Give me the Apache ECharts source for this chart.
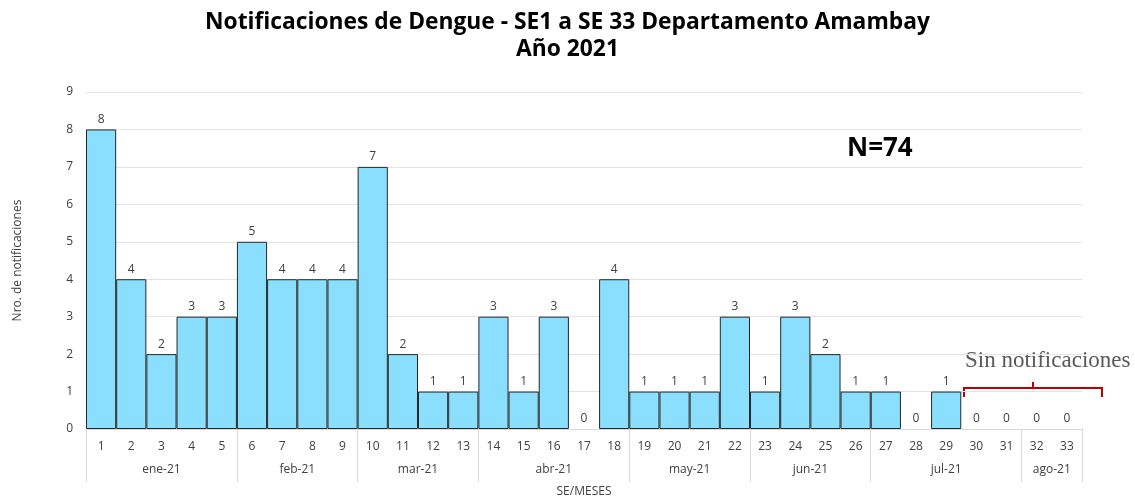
<!DOCTYPE html>
<html><head><meta charset="utf-8">
<script src="https://cdn.jsdelivr.net/npm/echarts@6/dist/echarts.min.js"></script>
<style>html,body{margin:0;padding:0;background:#fff}#c{width:1135px;height:500px}</style>
</head><body><div id="c"></div>
<script>
const weeks = ['1','2','3','4','5','6','7','8','9','10','11','12','13','14','15','16','17','18','19','20','21','22','23','24','25','26','27','28','29','30','31','32','33'];
const cases = [8,4,2,3,3,5,4,4,4,7,2,1,1,3,1,3,0,4,1,1,1,3,1,3,2,1,1,0,1,0,0,0,0];
const months = ['ene-21','feb-21','mar-21','abr-21','may-21','jun-21','jul-21','ago-21'];
const monthBounds = [0,5,9,13,18,22,26,31,33];
const yTicks = [0,1,2,3,4,5,6,7,8,9];
const monthCenters = months.map((m,i)=>(monthBounds[i]+monthBounds[i+1])/2);

const barData = cases.map(v => v === 0 ? {value:v, itemStyle:{borderWidth:0}} : v);

const chart = echarts.init(document.getElementById('c'));
chart.setOption({
  animation:false,
  title:{text:'Notificaciones de Dengue - SE1 a SE 33 Departamento Amambay\nAño 2021',left:'center',top:4,
    textStyle:{fontFamily:'Open Sans',fontWeight:'bold',fontSize:22.8,color:'#000',lineHeight:27}},
  grid:{left:86,right:53,top:92,bottom:71,outerBoundsMode:'none',containLabel:false},
  xAxis:[{
    type:'category',data:weeks,
    axisLine:{lineStyle:{color:'#d9d9d9'}},
    axisTick:{show:false},
    axisLabel:{color:'#404040',fontSize:12,margin:12,fontFamily:'Open Sans'},
    name:'SE/MESES',nameLocation:'middle',nameGap:57,
    nameTextStyle:{color:'#404040',fontSize:12,fontFamily:'Open Sans'}
  },{
    type:'value',min:0,max:33,position:'bottom',
    axisLine:{show:false},
    splitLine:{show:false},
    axisTick:{show:true,customValues:monthBounds,length:53,lineStyle:{color:'#d9d9d9'}},
    axisLabel:{customValues:monthCenters,margin:35,color:'#404040',fontSize:12,fontFamily:'Open Sans',
      formatter:(v)=>{const i=monthCenters.indexOf(v);return i>=0?months[i]:'';}}
  }],
  yAxis:{type:'value',min:0,max:9,interval:1,
    axisLine:{show:false},axisTick:{show:false},
    axisLabel:{color:'#404040',fontSize:12,margin:13,fontFamily:'Open Sans'},
    splitLine:{lineStyle:{color:'#e3e3e3'}},
    name:'Nro. de notificaciones',nameLocation:'middle',nameGap:62,nameRotate:90,
    nameTextStyle:{color:'#404040',fontSize:12,fontFamily:'Open Sans'}},
  series:[{type:'bar',data:barData,barCategoryGap:0,
    itemStyle:{color:'#8adfff',borderColor:'#262626',borderWidth:1},
    label:{show:true,position:'top',color:'#404040',fontSize:12,distance:4,fontFamily:'Open Sans'}
  }],
  graphic:[
    {type:'text',left:847,top:136,style:{text:'N=74',fontFamily:'Open Sans',fontWeight:'bold',fontSize:26,fill:'#000'}},
    {type:'text',left:962,top:347,style:{text:'Sin notificaciones',fontFamily:'Liberation Serif',fontSize:23,fill:'#595959',
      backgroundColor:'#fff',padding:[2,3,2,3]}},
    {type:'polyline',shape:{points:[[964,397],[964,388],[1102,388],[1102,397]]},style:{stroke:'#c00000',lineWidth:2,fill:null}},
    {type:'line',shape:{x1:1033,y1:388,x2:1033,y2:382},style:{stroke:'#c00000',lineWidth:2}}
  ]
});
</script></body></html>
